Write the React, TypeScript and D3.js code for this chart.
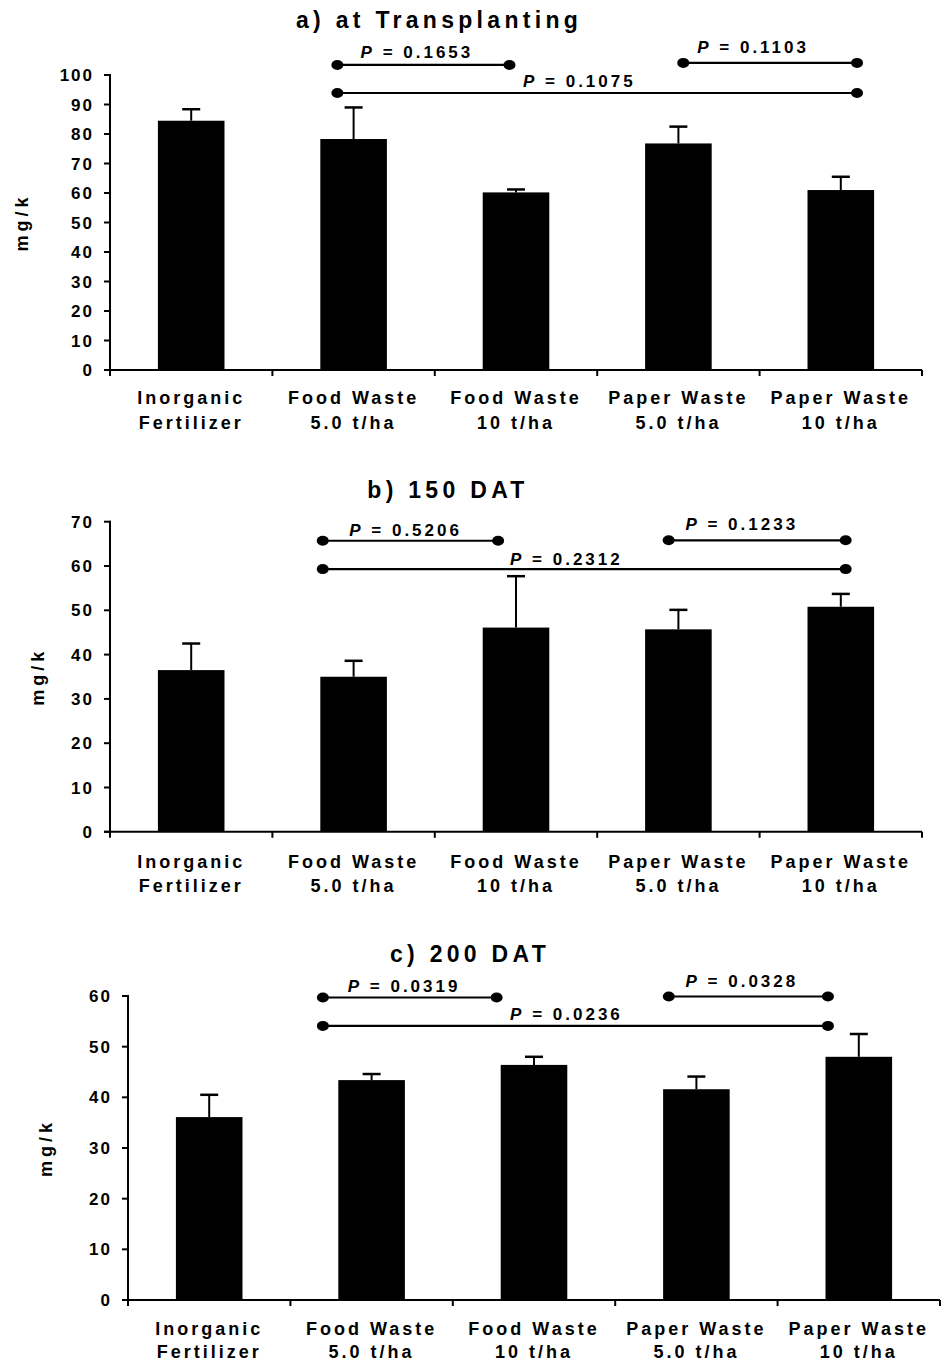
import React from "react";
import * as d3 from "d3";

const labelLine1 = ["Inorganic", "Food Waste", "Food Waste", "Paper Waste", "Paper Waste"];
const labelLine2 = ["Fertilizer", "5.0 t/ha", "10 t/ha", "5.0 t/ha", "10 t/ha"];

const meansA = [84.5, 78.3, 60.2, 76.8, 61.0];
const errA = [3.9, 10.7, 1.0, 5.7, 4.5];
const meansB = [36.5, 35.0, 46.1, 45.7, 50.8];
const errB = [6.0, 3.6, 11.6, 4.4, 2.9];
const meansC = [36.1, 43.4, 46.4, 41.6, 48.0];
const errC = [4.4, 1.2, 1.6, 2.5, 4.5];

const ticksA = [0, 10, 20, 30, 40, 50, 60, 70, 80, 90, 100];
const ticksB = [0, 10, 20, 30, 40, 50, 60, 70];
const ticksC = [0, 10, 20, 30, 40, 50, 60];

// brackets: from/to in category-index units, y in data units, label position
const bracketsA = [
  { from: 0.9, to: 1.96, y: 103.4, label: "0.1653", lx: 1.39, ly: 105.8 },
  { from: 3.03, to: 4.1, y: 104.1, label: "0.1103", lx: 3.46, ly: 107.5 },
  { from: 0.9, to: 4.1, y: 93.9, label: "0.1075", lx: 2.39, ly: 95.9 },
];
const bracketsB = [
  { from: 0.81, to: 1.89, y: 65.7, label: "0.5206", lx: 1.32, ly: 66.8 },
  { from: 2.94, to: 4.03, y: 65.8, label: "0.1233", lx: 3.39, ly: 68.1 },
  { from: 0.81, to: 4.03, y: 59.3, label: "0.2312", lx: 2.31, ly: 60.2 },
];
const bracketsC = [
  { from: 0.7, to: 1.77, y: 59.7, label: "0.0319", lx: 1.2, ly: 60.8 },
  { from: 2.83, to: 3.81, y: 59.9, label: "0.0328", lx: 3.28, ly: 61.8 },
  { from: 0.7, to: 3.81, y: 54.1, label: "0.0236", lx: 2.2, ly: 55.3 },
];

const panels = [
  { title: "a)  at Transplanting", titleX: 439, titleY: 28, means: meansA, errs: errA, ticks: ticksA, max: 100,
    x0: 110, x1: 922, yBottom: 370, yTop: 75, brackets: bracketsA, ylabX: 28, l1: 404, l2: 429 },
  { title: "b)  150 DAT", titleX: 448, titleY: 498, means: meansB, errs: errB, ticks: ticksB, max: 70,
    x0: 110, x1: 922, yBottom: 831.8, yTop: 521.7, brackets: bracketsB, ylabX: 44, l1: 868, l2: 892 },
  { title: "c) 200 DAT", titleX: 470, titleY: 962, means: meansC, errs: errC, ticks: ticksC, max: 60,
    x0: 128, x1: 940, yBottom: 1300, yTop: 996, brackets: bracketsC, ylabX: 52, l1: 1335, l2: 1358 },
];

const FONT = "'Liberation Sans', Arial, Helvetica, sans-serif";

function Panel({ p }: { p: any }) {
  const cats = d3.range(p.means.length).map(String);
  const x = d3.scaleBand<string>().domain(cats).range([p.x0, p.x1]).paddingInner(0.59).paddingOuter(0.295);
  const y = d3.scaleLinear().domain([0, p.max]).range([p.yBottom, p.yTop]);
  const step = x.step();
  const c0 = (x("0") as number) + x.bandwidth() / 2;
  const xi = d3.scaleLinear().domain([0, 1]).range([c0, c0 + step]);
  const bounds = d3.range(cats.length + 1).map((k) => p.x0 + k * step);
  const yMid = (p.yBottom + p.yTop) / 2;
  return (
    <g>
      <text x={p.titleX} y={p.titleY} textAnchor="middle" fontFamily={FONT} fontWeight="bold" fontSize={23} letterSpacing={4.3}>
        {p.title}
      </text>
      <text transform={`translate(${p.ylabX},${yMid}) rotate(-90)`} textAnchor="middle" fontFamily={FONT} fontWeight="bold" fontSize={18} letterSpacing={4}>
        mg/k
      </text>
      {/* bars */}
      {p.means.map((m: number, i: number) => {
        const bx = x(String(i)) as number;
        const cx = bx + x.bandwidth() / 2;
        const top = y(m + p.errs[i]);
        return (
          <g key={i}>
            <rect x={bx} y={y(m)} width={x.bandwidth()} height={y(0) - y(m)} fill="#000" />
            <line x1={cx} x2={cx} y1={y(m)} y2={top} stroke="#000" strokeWidth={2} />
            <line x1={cx - 9} x2={cx + 9} y1={top} y2={top} stroke="#000" strokeWidth={2.5} />
          </g>
        );
      })}
      {/* y axis */}
      <line x1={p.x0} x2={p.x0} y1={p.yTop - 1} y2={p.yBottom} stroke="#000" strokeWidth={2} />
      {p.ticks.map((t: number) => (
        <g key={t}>
          <line x1={p.x0 - 6} x2={p.x0} y1={y(t)} y2={y(t)} stroke="#000" strokeWidth={2} />
          <text x={p.x0 - 16} y={y(t)} dy="0.36em" textAnchor="end" fontFamily={FONT} fontWeight="bold" fontSize={17} letterSpacing={2}>
            {t}
          </text>
        </g>
      ))}
      {/* x axis */}
      <line x1={p.x0 - 6} x2={p.x1} y1={p.yBottom} y2={p.yBottom} stroke="#000" strokeWidth={2} />
      {bounds.map((b: number, k: number) => (
        <line key={k} x1={b} x2={b} y1={p.yBottom} y2={p.yBottom + 6} stroke="#000" strokeWidth={2} />
      ))}
      {cats.map((c: string, i: number) => {
        const cx = (x(c) as number) + x.bandwidth() / 2;
        return (
          <g key={c}>
            <text x={cx} y={p.l1} textAnchor="middle" fontFamily={FONT} fontWeight="bold" fontSize={18} letterSpacing={3}>
              {labelLine1[i]}
            </text>
            <text x={cx} y={p.l2} textAnchor="middle" fontFamily={FONT} fontWeight="bold" fontSize={18} letterSpacing={3}>
              {labelLine2[i]}
            </text>
          </g>
        );
      })}
      {/* brackets */}
      {p.brackets.map((br: any, k: number) => (
        <g key={k}>
          <line x1={xi(br.from)} x2={xi(br.to)} y1={y(br.y)} y2={y(br.y)} stroke="#000" strokeWidth={2.2} />
          <ellipse cx={xi(br.from)} cy={y(br.y)} rx={6} ry={5} fill="#000" />
          <ellipse cx={xi(br.to)} cy={y(br.y)} rx={6} ry={5} fill="#000" />
          <text x={xi(br.lx)} y={y(br.ly)} textAnchor="middle" fontFamily={FONT} fontWeight="bold" fontSize={17} letterSpacing={3}>
            <tspan fontStyle="italic">P</tspan>
            {" = " + br.label}
          </text>
        </g>
      ))}
    </g>
  );
}

export default function App() {
  return (
    <svg width={945} height={1365} style={{ position: "absolute", left: 0, top: 0, background: "#fff" }}>
      <rect x={0} y={0} width={945} height={1365} fill="#fff" />
      {panels.map((p, i) => (
        <Panel key={i} p={p} />
      ))}
    </svg>
  );
}
